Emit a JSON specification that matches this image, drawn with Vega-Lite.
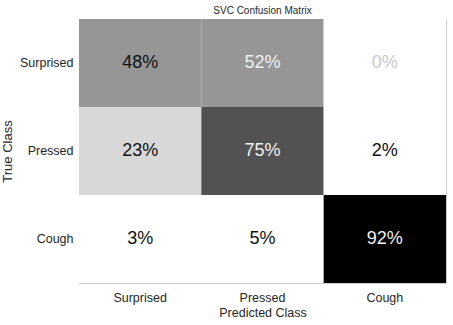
{
  "$schema": "https://vega.github.io/schema/vega-lite/v6.json",
  "autosize": "none",
  "width": 367,
  "height": 264,
  "padding": {"left": 79, "top": 19, "right": 7, "bottom": 42},
  "background": "white",
  "config": {
    "font": "Liberation Sans",
    "view": {"stroke": "#cccccc", "strokeWidth": 1}
  },
  "title": {"text": "SVC Confusion Matrix", "fontSize": 10, "fontWeight": "normal", "color": "#262626", "offset": 3},
  "data": {
    "values": [
      {"true": "Surprised", "pred": "Surprised", "value": 0.48},
      {"true": "Surprised", "pred": "Pressed", "value": 0.52},
      {"true": "Surprised", "pred": "Cough", "value": 0.0},
      {"true": "Pressed", "pred": "Surprised", "value": 0.23},
      {"true": "Pressed", "pred": "Pressed", "value": 0.75},
      {"true": "Pressed", "pred": "Cough", "value": 0.02},
      {"true": "Cough", "pred": "Surprised", "value": 0.03},
      {"true": "Cough", "pred": "Pressed", "value": 0.05},
      {"true": "Cough", "pred": "Cough", "value": 0.92}
    ]
  },
  "encoding": {
    "x": {
      "field": "pred", "type": "nominal", "sort": ["Surprised", "Pressed", "Cough"],
      "title": "Predicted Class",
      "axis": {"labelAngle": 0, "labelFontSize": 12.5, "labelColor": "#262626", "titleFontSize": 12.5, "titleFontWeight": "normal", "titleColor": "#262626", "ticks": false, "domain": false, "labelPadding": 8, "titlePadding": 3}
    },
    "y": {
      "field": "true", "type": "nominal", "sort": ["Surprised", "Pressed", "Cough"],
      "title": "True Class",
      "axis": {"labelFontSize": 12.5, "labelColor": "#262626", "titleFontSize": 13, "titleFontWeight": "normal", "titleColor": "#262626", "ticks": false, "domain": false, "labelPadding": 6, "titlePadding": 5}
    }
  },
  "layer": [
    {
      "mark": {"type": "rect"},
      "encoding": {
        "color": {
          "field": "value", "type": "quantitative", "legend": null,
          "scale": {
            "domain": [0, 0.05, 0.23, 0.48, 0.52, 0.75, 0.92],
            "range": ["#ffffff", "#ffffff", "#d8d8d8", "#969696", "#969696", "#525252", "#000000"],
            "interpolate": "rgb"
          }
        }
      }
    },
    {
      "mark": {"type": "text", "fontSize": 18},
      "encoding": {
        "text": {"field": "value", "type": "quantitative", "format": ".0%"},
        "color": {
          "condition": [
            {"test": "datum.value > 0.5", "value": "#f0f0f0"},
            {"test": "datum.value == 0", "value": "#c8c8c8"}
          ],
          "value": "#111111"
        }
      }
    }
  ]
}
